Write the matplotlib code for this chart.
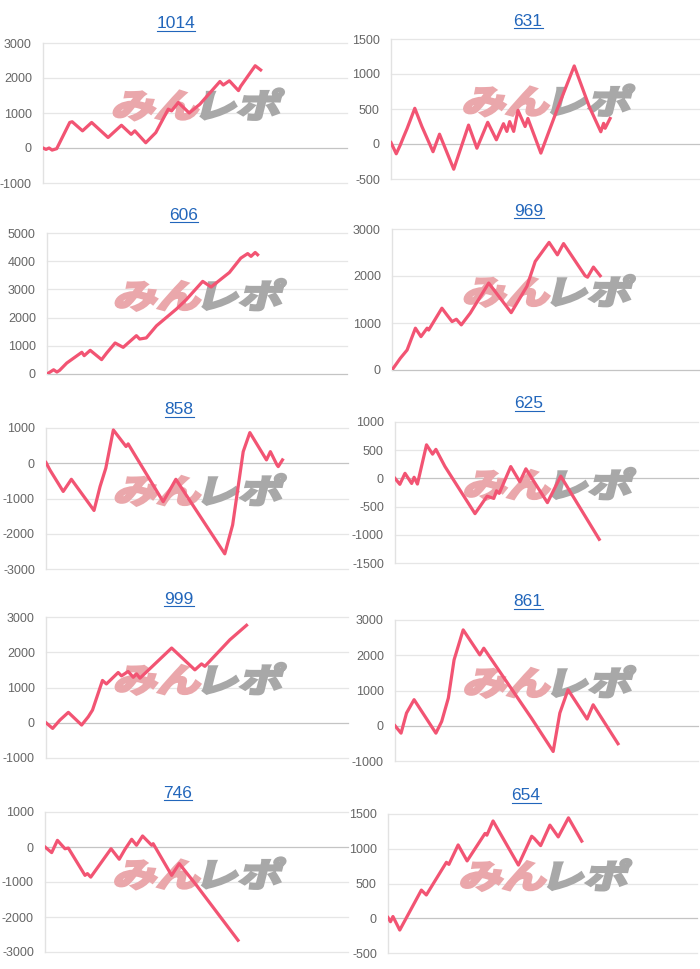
import matplotlib
matplotlib.use("Agg")
import matplotlib.pyplot as plt
import matplotlib.transforms as mtransforms
from matplotlib.textpath import TextPath
from matplotlib.patches import PathPatch
from matplotlib.font_manager import FontProperties
from matplotlib.lines import Line2D

plt.rcParams['font.family'] = ['Liberation Sans', 'DejaVu Sans']

titles = ['1014', '631', '606', '969', '858', '625', '999', '861', '746', '654']

# x = progress (% of the axis width), y = balance
x_1014 = [0, 1, 2, 3, 4.5, 8.8, 9.6, 13, 16, 21.4, 25.8, 29, 30.2, 33.8, 37.1, 41.2, 42.3, 44.5,
          48.1, 51.6, 58.2, 59.3, 61.3, 64.3, 65, 69.8, 71.6]
y_1014 = [0, -40, 0, -60, -20, 730, 750, 490, 730, 300, 650, 390, 490, 150, 440, 1110, 1060, 1300,
          1000, 1250, 1900, 1800, 1920, 1640, 1760, 2350, 2230]

x_631 = [0, 1.7, 3, 4.1, 5.2, 7.7, 10, 13.6, 15.7, 20.3, 25.1, 27.8, 31.3, 34.1, 36.4, 37.5, 38.4,
         39.7, 41.1, 43.4, 44.3, 48.5, 53.7, 59.3, 64.2, 67.9, 68.8, 69.3, 70.9]
y_631 = [20, -140, -15, 105, 220, 510, 250, -110, 140, -360, 270, -60, 310, 60, 290, 180, 320,
         180, 480, 250, 365, -130, 485, 1115, 530, 175, 295, 225, 365]

x_606 = [0, 2.2, 3.3, 4.2, 6.6, 11.6, 12.4, 14.4, 18.2, 19.9, 22.7, 25.4, 29.8, 30.9, 33.1, 36.5,
         43.1, 46.4, 51.9, 54.7, 60.8, 64.6, 66.9, 68, 69.4, 70.2]
y_606 = [0, 150, 70, 130, 390, 770, 650, 840, 510, 745, 1100, 945, 1360, 1240, 1280, 1710,
         2300, 2635, 3285, 3085, 3600, 4110, 4270, 4170, 4310, 4230]

x_969 = [0, 2.7, 4.9, 7.6, 9.4, 11.4, 11.9, 16.2, 17.8, 19.5, 20.9, 22.5, 25.4, 31.4, 38.7, 43.8,
         46.5, 51, 53.7, 55.7, 62.7, 63.5, 65.4, 67.6]
y_969 = [0, 250, 425, 890, 710, 890, 850, 1315, 1175, 1030, 1080, 960, 1210, 1850, 1220, 1780,
         2310, 2715, 2450, 2690, 2005, 1975, 2190, 2005]

x_858 = [0, 1.3, 5.7, 8.4, 15.9, 17.9, 19.8, 22.3, 26.5, 27.2, 38.8, 43, 59.2, 61.8, 65.3, 67.5,
         73, 74.3, 76.5, 76.9, 78.3]
y_858 = [20, -190, -800, -455, -1340, -660, -140, 945, 475, 550, -1090, -455, -2570, -1750, 330,
         870, 95, 330, -50, -95, 95]

x_625 = [0, 1.6, 3.3, 5.5, 6.3, 7.4, 10.4, 12.4, 13.5, 16.5, 26.4, 30.4, 32.6, 33.5, 34.4, 38.2,
         41.2, 43.2, 50.3, 54.7, 67.4]
y_625 = [0, -105, 90, -90, 20, -100, 595, 430, 515, 210, -625, -315, -355, -220, -265, 210,
         -60, 170, -430, 40, -1080]

x_999 = [0, 2.2, 4.6, 7.4, 11.8, 14, 15.4, 18.7, 20, 23.9, 25, 27.2, 28.9, 30, 31.1, 41.6, 49.3,
         51.5, 52.6, 60.9, 66.4]
y_999 = [0, -160, 75, 295, -65, 170, 360, 1200, 1100, 1425, 1330, 1455, 1290, 1385, 1265, 2120,
         1500, 1670, 1600, 2355, 2765]

x_861 = [0, 2, 3.8, 6.3, 13.5, 15.4, 17.6, 19.5, 22.5, 28, 29.3, 45, 52.2, 54.4, 57.1, 63.4,
         65.4, 73.6]
y_861 = [0, -210, 360, 740, -210, 120, 785, 1870, 2720, 2010, 2200, 220, -730, 360, 1020, 190,
         595, -510]

x_746 = [0, 2.2, 4.1, 6.6, 7.7, 13.2, 14, 15.1, 21.8, 24.5, 26.4, 28.6, 30.2, 32.2, 35.2, 35.7,
         41.8, 44.3, 50, 63.7]
y_746 = [0, -160, 190, -50, -30, -810, -760, -860, -50, -350, -65, 220, 50, 315, 50, 95, -810,
         -475, -1095, -2665]

x_654 = [0, 0.8, 1.6, 3.8, 10.8, 12.4, 18.9, 19.7, 22.7, 25.6, 31.4, 32, 34, 42.2, 46.5, 47.3,
         49.4, 52.4, 55.1, 58.4, 62.7]
y_654 = [10, -50, 25, -170, 405, 335, 805, 775, 1055, 825, 1220, 1195, 1400, 765, 1180, 1150,
         1045, 1340, 1170, 1445, 1110]

xs = [x_1014, x_631, x_606, x_969, x_858, x_625, x_999, x_861, x_746, x_654]
ys = [y_1014, y_631, y_606, y_969, y_858, y_625, y_999, y_861, y_746, y_654]

# y axis range and tick step for each chart
y_min = [-1000, -500, 0, 0, -3000, -1500, -1000, -1000, -3000, -500]
y_max = [3000, 1500, 5000, 3000, 1000, 1000, 3000, 3000, 1000, 1500]
y_step = [1000, 500, 1000, 1000, 1000, 500, 1000, 1000, 1000, 500]

# layout in pixels: axes (left, top, right, bottom) and title centre
W, H = 700, 969
boxes = [(43, 43, 347, 183), (391, 39, 700, 179),
         (47, 233, 347, 374), (392, 229, 700, 370),
         (46, 428, 348, 569), (395, 422, 698, 563),
         (46, 617, 348, 758), (395, 620, 698, 761),
         (45, 812, 348, 952), (388, 814, 697, 953)]
title_pos = [(176, 23), (528, 20), (184, 214), (529, 210), (179, 409),
             (529, 403), (179, 598), (528, 601), (178, 792), (526, 795)]

line_color = '#f25473'
link_color = '#2266bb'
wm_font = FontProperties(family='Noto Sans CJK JP', weight='bold')

fig = plt.figure(figsize=(W / 100, H / 100), dpi=100)


def watermark(ax):
    cx, cy = ax.transAxes.transform((0.5, 0.57))
    size = 33
    p1 = TextPath((0, 0), 'みん', size=size, prop=wm_font)
    p2 = TextPath((0, 0), 'レポ', size=size, prop=wm_font)
    e1, e2 = p1.get_extents(), p2.get_extents()
    sx = 1.32
    gap = 5
    total = (e1.x1 - e1.x0 + e2.x1 - e2.x0) * sx + gap
    h = max(e1.y1, e2.y1)
    x0 = cx - total / 2
    y0 = cy - h / 2
    t1 = mtransforms.Affine2D().translate(-e1.x0, 0).scale(sx, 1).skew_deg(14, 0).translate(x0, y0)
    t2 = (mtransforms.Affine2D().translate(-e2.x0, 0).scale(sx, 1).skew_deg(14, 0)
          .translate(x0 + (e1.x1 - e1.x0) * sx + gap, y0))
    ax.add_patch(PathPatch(p1, transform=t1, facecolor='#eaa7ab', edgecolor='#eaa7ab',
                           lw=2.2, zorder=1))
    ax.add_patch(PathPatch(p2, transform=t2, facecolor='#a8a8a8', edgecolor='#a8a8a8',
                           lw=2.2, zorder=1))


title_texts = []
for i in range(10):
    l, t, r, b = boxes[i]
    ax = fig.add_axes([l / W, 1 - b / H, (r - l) / W, (b - t) / H])
    ax.plot(xs[i], ys[i], color=line_color, lw=2.3, zorder=3, solid_joinstyle='round')
    ax.set_xlim(0, 100)
    ax.set_ylim(y_min[i], y_max[i])
    ticks = list(range(y_min[i], y_max[i] + 1, y_step[i]))
    ax.set_yticks(ticks)
    ax.set_yticklabels([str(v) for v in ticks])
    ax.set_xticks([])
    ax.tick_params(axis='y', length=0, pad=8, labelsize=9, labelcolor='#666666')
    for s in ['top', 'right', 'bottom']:
        ax.spines[s].set_visible(False)
    ax.spines['left'].set_color('#e2e2e2')
    ax.spines['left'].set_linewidth(1)
    for v in ticks:
        c = '#c4c4c4' if v == 0 else '#e6e6e6'
        ax.axhline(v, color=c, lw=0.9, zorder=0.5, clip_on=False)
    ax.set_facecolor('white')
    watermark(ax)

    tx, ty = title_pos[i]
    txt = fig.text(tx / W, 1 - (ty + 5.5) / H, titles[i], ha='center', va='baseline',
                   fontsize=12.5, color=link_color)
    title_texts.append(txt)

fig.canvas.draw()
renderer = fig.canvas.get_renderer()
for i, txt in enumerate(title_texts):
    bb = txt.get_window_extent(renderer)
    ty = title_pos[i][1] + 8
    fig.add_artist(Line2D([bb.x0 / W, bb.x1 / W], [1 - ty / H, 1 - ty / H],
                          transform=fig.transFigure, color=link_color, lw=0.8))

fig.savefig('out.png', dpi=100)
